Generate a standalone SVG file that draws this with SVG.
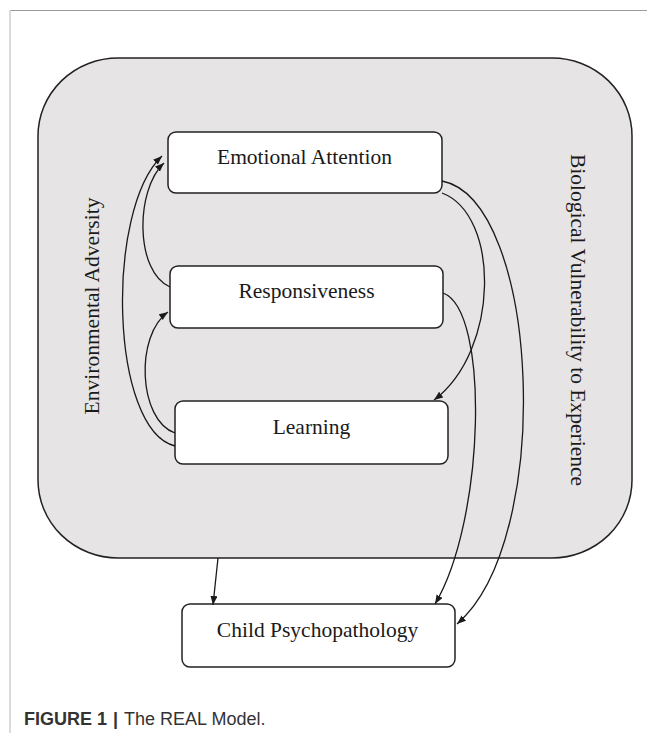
<svg xmlns="http://www.w3.org/2000/svg" width="647" height="733" viewBox="0 0 647 733">
  <style>
    .box { fill: #ffffff; stroke: #222222; stroke-width: 1.5; }
    .lbl { font-family: "Liberation Serif", "Times New Roman", serif; font-size: 21.5px; fill: #1a1a1a; text-anchor: middle; }
    .conn { fill: none; stroke: #1a1a1a; stroke-width: 1.3; }
    .cap { font-family: "Liberation Sans", Arial, sans-serif; font-size: 18px; fill: #333333; }
  </style>
  <defs>
    <marker id="arr" markerUnits="userSpaceOnUse" markerWidth="10" markerHeight="8" refX="9" refY="3.5" orient="auto">
      <path d="M0,0 L9,3.5 L0,7 z" fill="#1a1a1a"/>
    </marker>
  </defs>
  <rect width="647" height="733" fill="#ffffff"/>
  <!-- page frame -->
  <line x1="10" y1="10.5" x2="647" y2="10.5" stroke="#9a9a9a" stroke-width="1.2"/>
  <line x1="10" y1="10" x2="10" y2="733" stroke="#cfcfcf" stroke-width="1.5"/>

  <g id="context">
    <rect x="38" y="58" width="594" height="500" rx="80" ry="78" fill="#e6e4e5" stroke="#222222" stroke-width="1.5"/>
    <text class="lbl" transform="translate(98.5,306) rotate(-90)" x="0" y="0">Environmental Adversity</text>
    <text class="lbl" transform="translate(571,320) rotate(90)" x="0" y="0">Biological Vulnerability to Experience</text>
  </g>

  <g id="emotional-attention">
    <rect class="box" x="168" y="132" width="274" height="61" rx="8"/>
    <text class="lbl" x="304.5" y="164">Emotional Attention</text>
  </g>
  <g id="responsiveness">
    <rect class="box" x="170" y="266" width="273" height="62" rx="8"/>
    <text class="lbl" x="306.5" y="298">Responsiveness</text>
  </g>
  <g id="learning">
    <rect class="box" x="175" y="401" width="273" height="63" rx="8"/>
    <text class="lbl" x="311.5" y="434">Learning</text>
  </g>
  <g id="child-psychopathology">
    <rect class="box" x="182" y="604" width="273" height="63" rx="8"/>
    <text class="lbl" x="317.5" y="637">Child Psychopathology</text>
  </g>

  <g id="connectors">
    <path class="conn" d="M170,287 C135,272 135,190 164,163" marker-end="url(#arr)"/>
    <path class="conn" d="M175,446 C110,430 105,210 162,156" marker-end="url(#arr)"/>
    <path class="conn" d="M175,433 C138,420 135,335 168,312" marker-end="url(#arr)"/>
    <path class="conn" d="M442,193 C500,215 500,350 434,400" marker-end="url(#arr)"/>
    <path class="conn" d="M443,293 C490,310 485,520 435,604" marker-end="url(#arr)"/>
    <path class="conn" d="M442,181 C540,200 555,540 457,624" marker-end="url(#arr)"/>
    <path class="conn" d="M218,558 L213,605" marker-end="url(#arr)"/>
  </g>

  <text class="cap" x="24" y="725"><tspan font-weight="bold">FIGURE 1</tspan><tspan font-weight="bold" dx="6">|</tspan><tspan dx="6">The REAL Model.</tspan></text>
</svg>
